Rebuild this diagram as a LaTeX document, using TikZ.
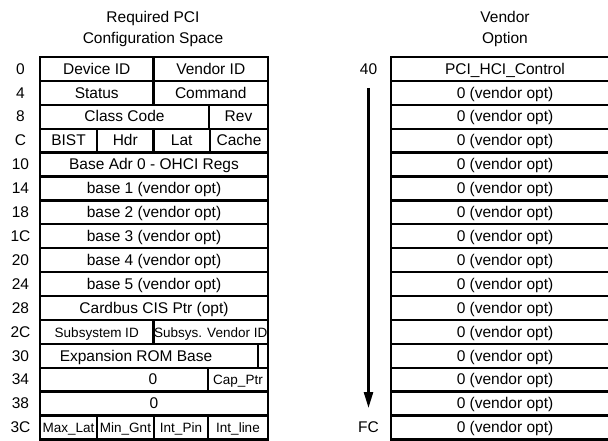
\documentclass[tikz,border=0pt]{standalone}
\usepackage{fontspec}
\setmainfont{Liberation Sans}
\usetikzlibrary{arrows.meta}

\begin{document}
\begin{tikzpicture}[
    x=1pt, y=-1pt,
    font=\fontsize{15.5}{20.5}\selectfont,
    cell/.style={draw, line width=2.3pt, anchor=north west, inner sep=0pt, outer sep=0pt,
        minimum height=23.9pt, text height=10.5pt, text depth=0pt},
    small/.style={font=\fontsize{13.5}{16}\selectfont},
    offset/.style={inner sep=0pt, text height=10.5pt, text depth=0pt},
    title/.style={align=center, anchor=base},
    flow/.style={-{Triangle[width=9pt,length=16pt]}, line width=2.5pt}
]

\useasboundingbox (0,0) rectangle (608,441);

% Titles
\node[title] (reqtitle) at (153,43.5) {Required PCI\\Configuration Space};
\node[title] (vndtitle) at (505,43.5) {Vendor\\Option};

% Offsets of the required space
\foreach \lab [count=\i from 0] in {0,4,8,C,10,14,18,1C,20,24,28,2C,30,34,38,3C}
    \node[offset] (off\lab) at (20.5,57+\i*23.9+11.95) {\lab};

% Required configuration registers
\node[cell, minimum width=113.5pt] (devid) at (40,57) {Device ID};
\node[cell, minimum width=114.5pt] (vendid) at (153.5,57) {Vendor ID};
\node[cell, minimum width=113.5pt] (status) at (40,80.9) {Status};
\node[cell, minimum width=114.5pt] (command) at (153.5,80.9) {Command};
\node[cell, minimum width=169pt] (classcode) at (40,104.8) {Class Code};
\node[cell, minimum width=59pt] (rev) at (209,104.8) {Rev};
\node[cell, minimum width=57pt] (bist) at (40,128.7) {BIST};
\node[cell, minimum width=56.5pt] (hdr) at (97,128.7) {Hdr};
\node[cell, minimum width=56.5pt] (lat) at (153.5,128.7) {Lat};
\node[cell, minimum width=58pt] (cache) at (210,128.7) {Cache};
\node[cell, minimum width=228pt] (base0) at (40,152.6) {Base Adr 0 - OHCI Regs};
\foreach \n [count=\i from 5] in {1,...,5}
    \node[cell, minimum width=228pt] (base\n) at (40,57+\i*23.9) {base \n{} (vendor opt)};
\node[cell, minimum width=228pt] (cisptr) at (40,296) {Cardbus CIS Ptr (opt)};
\node[cell, small, minimum width=113.5pt] (subsysid) at (40,319.9) {Subsystem ID};
\node[cell, small, minimum width=114.5pt] (subvendid) at (153.5,319.9) {Subsys. Vendor ID};
\node[cell, minimum width=218pt] (rombase) at (40,343.8) {};
\node[cell, minimum width=10pt] (romlow) at (258,343.8) {};
\node[offset] (romtext) at (136,355.75) {Expansion ROM Base};
\node[cell, minimum width=168pt] (resvd34) at (40,367.7) {};
\node[offset] (resvd34txt) at (153,379.65) {0};
\node[cell, small, minimum width=60pt] (capptr) at (208,367.7) {Cap\_Ptr};
\node[cell, minimum width=228pt] (resvd38) at (40,391.6) {0};
\node[cell, small, minimum width=57pt] (maxlat) at (40,415.5) {Max\_Lat};
\node[cell, small, minimum width=57pt] (mingnt) at (97,415.5) {Min\_Gnt};
\node[cell, small, minimum width=54pt] (intpin) at (154,415.5) {Int\_Pin};
\node[cell, small, minimum width=60pt] (intline) at (208,415.5) {Int\_line};

% Vendor option space
\node[cell, minimum width=228pt] (hcictl) at (391,57) {PCI\_HCI\_Control};
\foreach \i in {1,...,15}
    \node[cell, minimum width=228pt] (vopt\i) at (391,57+\i*23.9) {0 (vendor opt)};

\node[offset] (off40) at (368.5,68.95) {40};
\node[offset] (offFC) at (368.5,427.45) {FC};
\draw[flow, shorten <=13.5pt, shorten >=14pt] (off40.south) -- (offFC.north);

\end{tikzpicture}
\end{document}
